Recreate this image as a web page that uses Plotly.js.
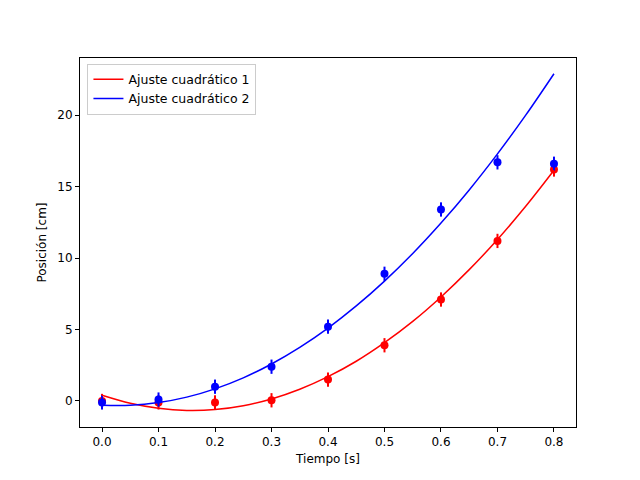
<!DOCTYPE html>
<html><head><script src="https://cdn.plot.ly/plotly-3.0.1.min.js"></script></head>
<body style="margin:0"><div id="plot" style="width:640px;height:480px"></div>
<script>
const tData = [0, 0.1, 0.2, 0.3, 0.4, 0.5, 0.6, 0.7, 0.8];
const pos1 = [0, -0.1, -0.1, 0.05, 1.5, 3.9, 7.1, 11.2, 16.2];
const pos2 = [-0.1, 0.1, 1.0, 2.4, 5.2, 8.9, 13.4, 16.7, 16.6];
const err1 = [0.5, 0.5, 0.5, 0.5, 0.5, 0.5, 0.5, 0.5, 0.5];
const err2 = [0.5, 0.5, 0.5, 0.5, 0.5, 0.5, 0.5, 0.5, 0.5];
const tFit = [0, 0.05, 0.1, 0.15, 0.2, 0.25, 0.3, 0.35, 0.4, 0.45, 0.5, 0.55, 0.6, 0.65, 0.7, 0.75, 0.8];
const fit1 = [0.4, -0.16, -0.51, -0.66, -0.6, -0.33, 0.14, 0.82, 1.7, 2.78, 4.08, 5.57, 7.28, 9.19, 11.3, 13.62, 16.14];
const fit2 = [-0.3, -0.3, -0.11, 0.27, 0.85, 1.62, 2.59, 3.75, 5.1, 6.65, 8.39, 10.32, 12.45, 14.77, 17.29, 20.0, 22.9];

const traces = [
  {x: tData, y: pos1, mode: 'markers', marker: {color: 'red', size: 8},
   error_y: {type: 'data', array: err1, color: 'red', thickness: 2, width: 0}, showlegend: false},
  {x: tData, y: pos2, mode: 'markers', marker: {color: 'blue', size: 8},
   error_y: {type: 'data', array: err2, color: 'blue', thickness: 2, width: 0}, showlegend: false},
  {x: tFit, y: fit1, mode: 'lines', line: {color: 'red', width: 1.5, shape: 'spline'}, name: 'Ajuste cuadrático 1'},
  {x: tFit, y: fit2, mode: 'lines', line: {color: 'blue', width: 1.5, shape: 'spline'}, name: 'Ajuste cuadrático 2'}
];
const ax = {showgrid: false, zeroline: false, showline: true, mirror: true, linecolor: 'black',
  ticks: 'outside', ticklen: 4, tickcolor: 'black'};
Plotly.newPlot('plot', traces, {
  width: 640, height: 480, plot_bgcolor: 'white', paper_bgcolor: 'white',
  font: {family: 'DejaVu Sans', size: 12, color: 'black'},
  margin: {l: 80, r: 64, t: 58, b: 53},
  xaxis: Object.assign({}, ax, {range: [-0.039, 0.839], tickvals: [0, 0.1, 0.2, 0.3, 0.4, 0.5, 0.6, 0.7, 0.8],
    tickformat: '.1f', title: {text: 'Tiempo [s]', standoff: 6, font: {size: 12}}}),
  yaxis: Object.assign({}, ax, {range: [-1.82, 24.0], tickvals: [0, 5, 10, 15, 20],
    title: {text: 'Posición [cm]', standoff: 8, font: {size: 12}}}),
  legend: {x: 0.015, y: 0.985, xanchor: 'left', yanchor: 'top', bordercolor: '#ccc', borderwidth: 1,
    bgcolor: 'rgba(255,255,255,0.8)', traceorder: 'normal', font: {size: 12.5}},
  showlegend: true
}, {displayModeBar: false});
</script></body></html>
